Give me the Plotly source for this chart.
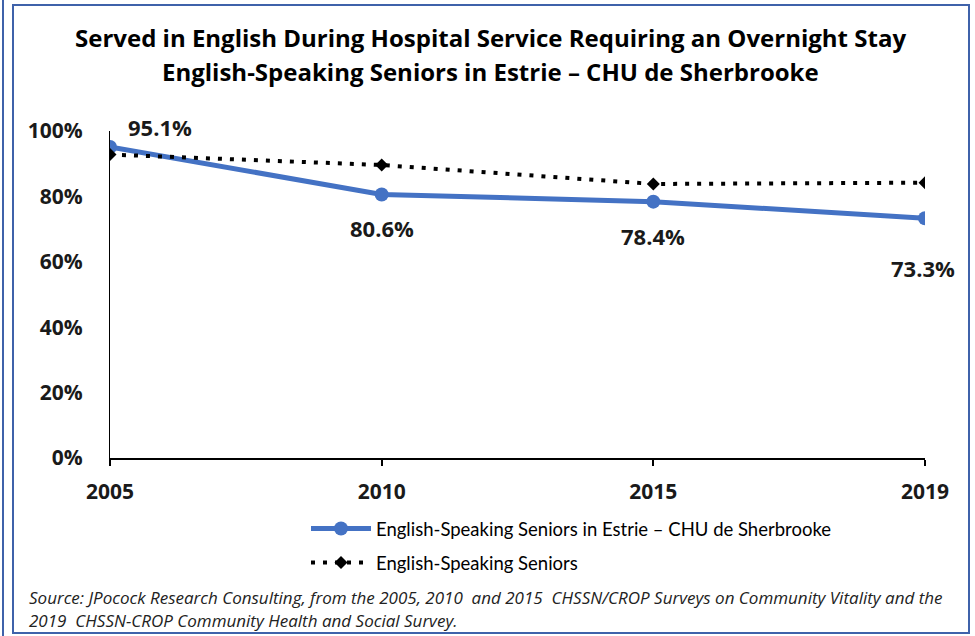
import plotly.graph_objects as go

# ---- data ----
years = ["2005", "2010", "2015", "2019"]
estrie_chu = [0.951, 0.806, 0.784, 0.733]
all_seniors = [0.928, 0.896, 0.838, 0.842]
series_names = ["English-Speaking Seniors in Estrie – CHU de Sherbrooke", "English-Speaking Seniors"]
y_ticks = [0, 0.2, 0.4, 0.6, 0.8, 1.0]
y_tick_labels = ["0%", "20%", "40%", "60%", "80%", "100%"]
title_lines = ["Served in English During Hospital Service Requiring an Overnight Stay",
               "English-Speaking Seniors in Estrie – CHU de Sherbrooke"]
source_lines = ["Source: JPocock Research Consulting, from the 2005, 2010  and 2015  CHSSN/CROP Surveys on Community Vitality and the",
                "2019  CHSSN-CROP Community Health and Social Survey."]

W, H = 975, 636
L, R, T, B = 110, 50, 131, 178
PW, PH = W - L - R, H - T - B
BOLD = "Open Sans"
REG = "Lato"
BLUE = "#4472C4"
FRAME = "#3F62AA"


def px(x):
    return (x - L) / PW


def py(y):
    return (H - B - y) / PH


xs = list(range(len(years)))

fig = go.Figure()
fig.add_trace(go.Scatter(
    x=xs, y=estrie_chu, name=series_names[0], mode="lines+markers", legendgroup="a",
    line=dict(color=BLUE, width=5), marker=dict(symbol="circle", size=14, color=BLUE),
))
fig.add_trace(go.Scatter(
    x=xs, y=all_seniors, name=series_names[1], mode="lines+markers", legendgroup="b",
    line=dict(color="black", width=4, dash="4px,8px"),
    marker=dict(symbol="diamond", size=10, color="black"),
))

# data labels
label_offsets = [(50, 20), (0, -34), (0, -34), (-2, -50)]
annotations = []
for i, v in enumerate(estrie_chu):
    dx, dy = label_offsets[i]
    annotations.append(dict(
        x=i, y=v, xref="x", yref="y", text=f"{v*100:.1f}%", showarrow=False,
        xshift=dx, yshift=dy, font=dict(family=BOLD, size=22, color="#1a1a1a", weight="bold"),
    ))

# titles
for t, ypix in zip(title_lines, [37, 72]):
    annotations.append(dict(
        x=px(490), y=py(ypix), xref="paper", yref="paper", text=t, showarrow=False,
        xanchor="center", yanchor="middle",
        font=dict(family=BOLD, size=24, color="black", weight="bold"),
    ))

# source
for t, ypix in zip(source_lines, [597, 620]):
    annotations.append(dict(
        x=px(27), y=py(ypix), xref="paper", yref="paper", text=f"<i>{t}</i>", showarrow=False,
        xanchor="left", yanchor="middle",
        font=dict(family="Open Sans", size=17, color="#222222"),
    ))

shapes = [
    dict(type="line", xref="paper", yref="paper", x0=px(3), x1=px(3), y0=py(0), y1=py(636),
         line=dict(color=FRAME, width=2)),
    dict(type="rect", xref="paper", yref="paper", x0=px(13), x1=px(969), y0=py(633), y1=py(5),
         line=dict(color=FRAME, width=2)),
]

fig.update_layout(
    width=W, height=H, margin=dict(l=L, r=R, t=T, b=B),
    paper_bgcolor="white", plot_bgcolor="white",
    font=dict(family=REG, color="black"),
    showlegend=True,
    legend=dict(x=px(306), y=py(510), xanchor="left", yanchor="top",
                font=dict(family=REG, size=18.5, color="black"),
                bgcolor="rgba(0,0,0,0)", traceorder="grouped", tracegroupgap=7, itemwidth=60),
    annotations=annotations, shapes=shapes,
    xaxis=dict(
        range=[0, 3], tickmode="array", tickvals=xs, ticktext=years,
        showgrid=False, zeroline=False, showline=True, linecolor="black", linewidth=1.5,
        ticks="outside", ticklen=6, tickwidth=1.5, tickcolor="black",
        tickfont=dict(family=BOLD, size=21, color="#1a1a1a", weight="bold"),
        ticklabelstandoff=8,
    ),
    yaxis=dict(
        range=[0, 1], tickmode="array", tickvals=y_ticks, ticktext=y_tick_labels,
        showgrid=False, zeroline=False, showline=True, linecolor="black", linewidth=1,
        ticks="", tickfont=dict(family=BOLD, size=21, color="#1a1a1a", weight="bold"),
        ticklabelstandoff=22,
    ),
)

fig.write_html("out.html", config={"displayModeBar": False},
               post_script="document.body.style.margin='0';document.body.style.overflow='hidden';")
